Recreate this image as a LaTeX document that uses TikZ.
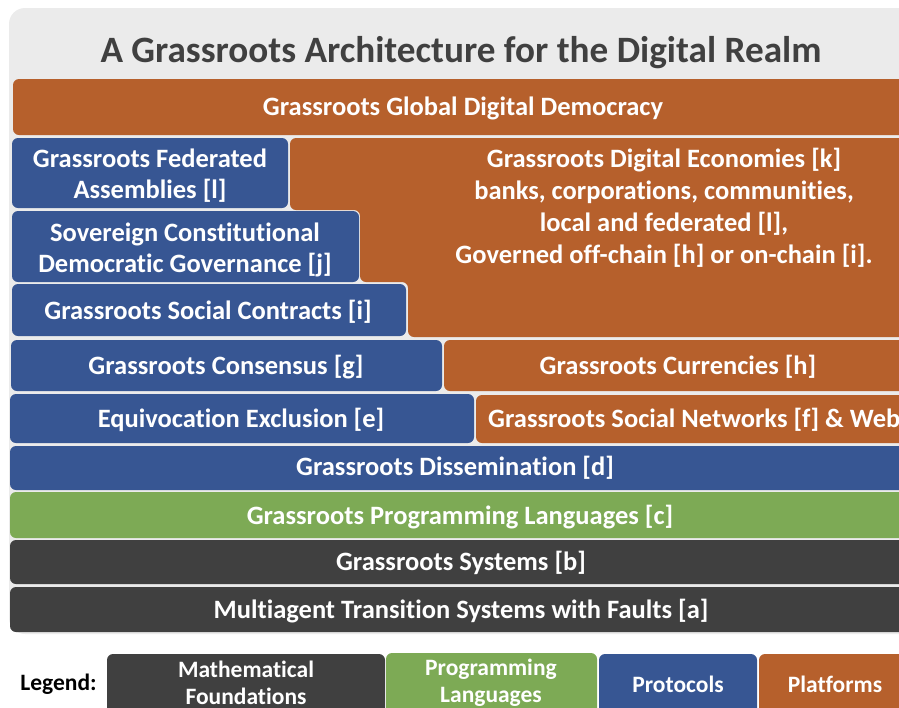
\documentclass[tikz,border=0pt]{standalone}
\usepackage{fontspec}
\setmainfont{Carlito}[Ligatures=NoCommon]
\definecolor{plat}{RGB}{182,96,44}
\definecolor{prot}{RGB}{55,86,147}
\definecolor{lang}{RGB}{125,170,85}
\definecolor{found}{RGB}{64,64,64}
\definecolor{panel}{RGB}{235,235,235}
\tikzset{
  bar/.style={rounded corners=6pt},
  lbl/.style={text=white, font=\fontsize{26.5}{31}\selectfont\bfseries, align=center, inner sep=0pt},
  leg/.style={text=white, font=\fontsize{23.5}{27}\selectfont\bfseries, align=center, inner sep=0pt},
}
\begin{document}
\begin{tikzpicture}[x=1pt,y=-1pt]
\useasboundingbox (0,0) rectangle (899,707);
\clip (0,0) rectangle (899,707);
% panel
\fill[panel, rounded corners=16pt] (9,8) rectangle (960,634);
\node[anchor=base, inner sep=0pt, text=found, font=\fontsize{37.2}{40}\selectfont\bfseries] (title) at (461,62) {A Grassroots Architecture for the Digital Realm};
% bars
\fill[plat, bar] (13,79) rectangle (940,135);
\node[lbl, anchor=base] (dem) at (463,115.5) {Grassroots Global Digital Democracy};

\fill[prot, bar] (12,138) rectangle (288,208);
\node[lbl] (fed) at (150,175.5) {Grassroots Federated\\Assemblies [l]};

\fill[plat, bar] (290,138) -- (940,138) -- (940,337) -- (408,337) -- (408,282) -- (360,282) -- (360,210) -- (290,210) -- cycle;
\node[lbl, font=\fontsize{26.5}{32}\selectfont\bfseries] (econ) at (664,208) {Grassroots Digital Economies [k]\\banks, corporations, communities,\\local and federated [l],\\Governed off-chain [h] or on-chain [i].};

\fill[prot, bar] (12,211) rectangle (359,282);
\node[lbl] (sov) at (185,250) {Sovereign Constitutional\\Democratic Governance [j]};

\fill[prot, bar] (12,284) rectangle (406,336);
\node[lbl, anchor=base] (soc) at (208,319.5) {Grassroots Social Contracts [i]};

\fill[prot, bar] (11,340) rectangle (442,391);
\node[lbl, anchor=base] (cons) at (226,374.5) {Grassroots Consensus [g]};

\fill[plat, bar] (444,340) rectangle (940,391);
\node[lbl, anchor=base] (cur) at (678,374.5) {Grassroots Currencies [h]};

\fill[prot, bar] (10,394) rectangle (474,443);
\node[lbl, anchor=base] (equiv) at (241,427.5) {Equivocation Exclusion [e]};

\fill[plat, bar] (476,395) rectangle (940,443);
\node[lbl, anchor=base west] (net) at (488,427.5) {Grassroots Social Networks [f] \& Web};

\fill[prot, bar] (10,446) rectangle (940,490);
\node[lbl, anchor=base] (diss) at (455,475.5) {Grassroots Dissemination [d]};

\fill[lang, bar] (10,492) rectangle (940,538);
\node[lbl, anchor=base] (pl) at (460,524.5) {Grassroots Programming Languages [c]};

\fill[found, bar] (10,540) rectangle (940,584);
\node[lbl, anchor=base] (sys) at (461,570.5) {Grassroots Systems [b]};

\fill[found, bar] (10,587) rectangle (940,632);
\node[lbl, anchor=base] (mts) at (461,618.5) {Multiagent Transition Systems with Faults [a]};

% legend
\node[leg, text=black, anchor=base] (legend) at (58.5,690) {Legend:};
\fill[found, bar] (107,654) rectangle (385,730);
\node[leg] (lmath) at (246,682.5) {Mathematical\\Foundations};
\fill[lang, bar] (386,653) rectangle (597,730);
\node[leg] (llang) at (491,682.5) {Programming\\Languages};
\fill[prot, bar] (599,654) rectangle (757,730);
\node[leg, anchor=base] (lprot) at (678,692) {Protocols};
\fill[plat, bar] (759,654) rectangle (960,730);
\node[leg, anchor=base] (lplat) at (835,692) {Platforms};
\end{tikzpicture}
\end{document}
